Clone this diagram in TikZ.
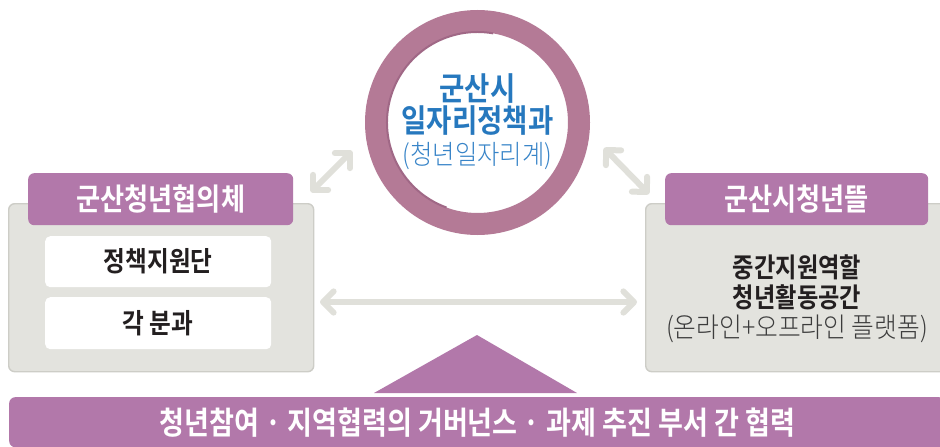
\documentclass[tikz,border=0pt]{standalone}
\usepackage{fontspec}
\usetikzlibrary{arrows.meta}
\newfontfamily\krbold{Noto Sans CJK KR Bold}[FakeStretch=0.86]
\IfFontExistsTF{Noto Sans CJK KR Light}
  {\newfontfamily\krlight{Noto Sans CJK KR Light}[FakeStretch=0.9]}
  {\newfontfamily\krlight{Noto Sans CJK KR}[FakeStretch=0.9]}
\definecolor{headpurple}{RGB}{178,120,170}
\definecolor{ringcol}{RGB}{180,122,150}
\definecolor{ringdark}{RGB}{160,104,134}
\definecolor{panelfill}{RGB}{227,227,222}
\definecolor{panelline}{RGB}{205,205,199}
\definecolor{arrowgray}{RGB}{224,224,218}
\definecolor{titleblue}{RGB}{38,120,190}
\definecolor{lightblue}{RGB}{55,132,200}
\definecolor{darktext}{RGB}{35,31,32}
\definecolor{graytext}{RGB}{60,60,60}
\begin{document}
\begin{tikzpicture}[x=1pt,y=-1pt,
  panelbox/.style={draw=panelline, line width=1.4pt, fill=panelfill, rounded corners=6pt, inner sep=0pt, anchor=north west},
  headbox/.style={fill=headpurple, rounded corners=6pt, inner sep=0pt, anchor=north west, text=white, font=\krbold\fontsize{30.5pt}{32pt}\selectfont},
  whitebox/.style={fill=white, rounded corners=5pt, inner sep=0pt, anchor=north west, text=darktext, font=\krbold\fontsize{27.5pt}{30pt}\selectfont},
  bartext/.style={fill=headpurple, rounded corners=6pt, inner sep=0pt, anchor=north west, text=white, font=\krbold\fontsize{31.5pt}{32pt}\selectfont},
  dblarrow/.style={draw=arrowgray, line width=6pt, line cap=round,
    {Straight Barb[angle=90:15pt,round]}-{Straight Barb[angle=90:15pt,round]}}
]
\useasboundingbox (0,0) rectangle (940,447);
\fill[white] (0,0) rectangle (940,447);

% left panel
\node[panelbox, minimum width=305pt, minimum height=168pt] (lpanel) at (8,203) {};
\node[headbox, minimum width=265pt, minimum height=52pt] (lhead) at (28,173) {군산청년협의체};
\node[whitebox, minimum width=226pt, minimum height=51pt] (b1) at (45,236) {정책지원단};
\node[whitebox, minimum width=226pt, minimum height=52pt] (b2) at (45,297) {각 분과};

% right panel
\node[panelbox, minimum width=300pt, minimum height=168pt] (rpanel) at (645,203) {};
\node[headbox, minimum width=263pt, minimum height=52pt] (rhead) at (665,173) {군산시청년뜰};
\node[text=darktext, align=center, inner sep=0pt, font=\krbold\fontsize{27pt}{30pt}\selectfont] (rtext) at (797,299)
  {중간지원역할\\청년활동공간\\{\krlight\color{graytext}\fontsize{27.5pt}{30pt}\selectfont (온라인+오프라인 플랫폼)}};

% centre circle
\node[circle, draw=ringcol, line width=22pt, fill=white, minimum size=203pt, inner sep=0pt] (city) at (477.5,122.5) {};
\draw[ringdark, line width=2pt] (city.center) ++(110:90.5) arc[start angle=110, end angle=280, radius=90.5];
\node[align=center, inner sep=0pt, text=titleblue, font=\krbold\fontsize{32pt}{32pt}\selectfont] (citytext) at (477.5,122)
  {군산시\\일자리정책과\\{\krlight\color{lightblue}\fontsize{27pt}{32pt}\selectfont (청년일자리계)}};

% arrows
\coordinate (la1) at (311,192);
\coordinate (la2) at (352,151);
\coordinate (ra1) at (604,148);
\coordinate (ra2) at (649,194);
\coordinate (ha1) at (320,302);
\coordinate (ha2) at (637,302);
\draw[dblarrow] (la1) -- (la2);
\draw[dblarrow] (ra1) -- (ra2);
\draw[dblarrow] (ha1) -- (ha2);

% bottom
\fill[headpurple] (374,393) -- (477,335) -- (577,393) -- cycle;
\node[bartext, minimum width=936pt, minimum height=50pt] (bar) at (9,397)
  {청년참여 · 지역협력의 거버넌스 · 과제 추진 부서 간 협력};
\end{tikzpicture}
\end{document}
